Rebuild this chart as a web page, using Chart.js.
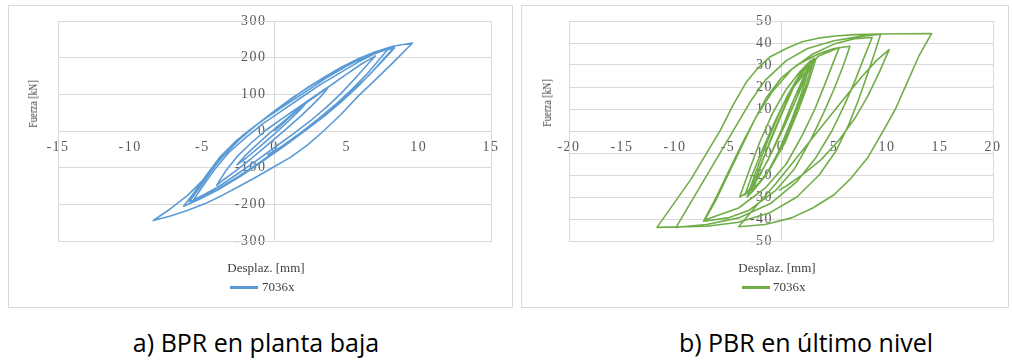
<!DOCTYPE html>
<html>
<head>
<meta charset="utf-8">
<script src="https://cdn.jsdelivr.net/npm/chart.js@4"></script>
<style>
  html,body{margin:0;padding:0;background:#fff;}
  body{width:1012px;height:360px;position:relative;overflow:hidden;}
  .panel{position:absolute;border:1px solid #d9d9d9;box-sizing:border-box;}
  canvas{position:absolute;}
  .t{position:absolute;font-family:"Liberation Serif","Times New Roman",serif;font-size:13px;color:#404040;white-space:nowrap;}
  .ytitle{font-size:13px;transform:translate(-50%,-50%) rotate(-90deg) scaleX(0.75);}
  .xtitle{transform:translate(-50%,-50%);}
  .leg{position:absolute;height:3px;}
  .cap{position:absolute;font-family:"Open Sans","Noto Sans",sans-serif;font-size:25px;color:#000;white-space:nowrap;transform:translate(-50%,-50%);}
</style>
</head>
<body>
<div class="panel" style="left:8px;top:5px;width:505px;height:303px;"></div>
<div class="panel" style="left:521px;top:5px;width:488px;height:303px;"></div>
<canvas id="c1" width="503" height="301" style="left:9px;top:6px;"></canvas>
<canvas id="c2" width="486" height="301" style="left:522px;top:6px;"></canvas>

<div class="t ytitle" style="left:33px;top:104px;">Fuerza [kN]</div>
<div class="t xtitle" style="left:266px;top:268px;">Desplaz. [mm]</div>
<div class="leg" style="left:230px;top:286px;width:28px;background:#5b9bd5;"></div>
<div class="t" style="left:262px;top:279px;">7036x</div>

<div class="t ytitle" style="left:547px;top:103px;">Fuerza [kN]</div>
<div class="t xtitle" style="left:777px;top:268px;">Desplaz. [mm]</div>
<div class="leg" style="left:742px;top:286px;width:28px;background:#70ad47;"></div>
<div class="t" style="left:773px;top:279px;">7036x</div>

<div class="cap" style="left:256px;top:342px;">a) BPR en planta baja</div>
<div class="cap" style="left:806px;top:342px;">b) PBR en último nivel</div>

<script>
// ---- Data (displacement mm, force kN) ----
const seriesName = "7036x";

const bprDesplaz = [
  0,0.7,1.4,2.1,1.7,1.0,0,-1.0,-2.0,-2.6,-2.1,-1.3,-0.4,0.6,1.6,
  2.6,3.2,3.7,3.3,2.6,1.8,0.8,-0.4,-1.6,-2.8,-3.6,-4.0,
  -3.4,-2.6,-1.6,-0.6,0.5,1.5,2.6,3.8,5.0,6.0,7.0,
  6.3,5.5,4.6,3.6,2.5,1.3,0,-1.3,-2.6,-3.8,-4.8,-5.6,
  -5.0,-4.2,-3.2,-2.0,-0.8,0.5,1.8,3.2,4.6,5.8,6.9,7.9,
  7.2,6.4,5.4,4.3,3.1,1.8,0.4,-1.0,-2.5,-3.9,-5.0,-5.9,
  -5.2,-4.3,-3.4,-2.2,-0.8,0.8,2.2,3.6,5.0,6.4,7.4,8.3,
  7.6,6.8,5.8,4.7,3.5,2.2,0.8,-0.8,-2.3,-3.8,-5.2,-6.3,
  -5.6,-4.8,-3.8,-2.6,-1.3,0,1.2,2.3,3.5,4.6,5.8,6.9,8.2,9.56,
  8.3,7.0,5.8,4.6,3.4,2.3,1.1,0,-1.2,-2.4,-3.6,-4.8,-6.0,-7.2,-8.4,
  -7.2,-6.0,-4.8,-3.6,-2.4,-1.2,0,1.3,2.6,3.9,5.2,6.5,7.8,8.3,
  7.5,6.5,5.4,4.2,3.0,1.8,0.5,-0.5];
const bprFuerza = [
  0,25,50,72,55,28,-8,-42,-75,-92,-70,-40,-8,25,58,
  88,105,118,98,70,40,5,-35,-75,-112,-135,-148,
  -110,-70,-32,2,33,60,90,122,155,182,205,
  175,140,102,65,28,-8,-45,-82,-118,-150,-172,-188,
  -152,-108,-60,-18,20,55,90,127,160,188,210,225,
  192,155,115,75,35,-5,-45,-85,-124,-158,-180,-193,
  -155,-105,-58,-12,30,72,108,145,177,205,220,228,
  198,163,122,82,42,3,-38,-82,-122,-158,-186,-205,
  -170,-125,-72,-25,15,52,88,119,148,173,197,215,231,240,
  190,140,95,45,0,-38,-72,-97,-124,-150,-175,-198,-216,-232,-244,
  -212,-175,-128,-70,-22,18,55,92,125,155,182,205,222,226,
  192,150,110,68,28,-8,-42,-65];

const pbrDesplaz = [
  0,1.2,2.0,2.6,2.0,1.0,-0.2,-1.4,-2.6,-2.0,-1.0,0.2,1.4,2.4,3.0,2.3,1.2,0,-1.4,-2.6,-3.2,-2.4,-1.3,0,1.3,2.5,3.3,2.6,1.6,0.4,-1.0,-2.5,-3.9,-3.0,-2.0,-0.8,0.5,1.8,
  2.8,2.0,1.0,0,-1.2,-2.4,-3.4,-2.8,-1.8,-0.6,0.6,1.8,2.7,3.1,2.4,1.4,0.3,-0.9,-2.1,-3.0,-2.3,-1.2,0,1.2,
  3.5,5.5,5.0,4.2,3.2,2.0,0.5,-1.5,-4.0,-7.2,
  -6.2,-5.0,-3.8,-2.6,-1.4,0,1.5,3.5,5.0,6.5,
  5.9,5.0,4.0,2.8,1.3,-0.5,-3.0,-5.0,-7.3,
  -6.2,-5.0,-3.8,-2.4,-0.8,1.0,3.0,5.0,7.0,8.6,
  7.8,7.0,6.0,4.8,3.3,1.5,-1.0,-4.0,-7.0,-9.9,
  -2.8,-1.5,0.5,2.5,5.0,7.5,9.4,
  8.8,8.1,7.3,6.4,5.2,3.6,1.5,-1.0,-4.0,-7.0,-11.7,
  -8.5,-5.7,-4.5,-3.3,-2.2,-1.1,0.5,2.0,3.5,5.1,7.0,9.4,14.2,
  13.0,11.9,10.8,9.7,8.2,6.5,5.0,3.0,1.0,-1.5,-4.0,
  -2.5,-0.5,1.5,3.5,5.5,7.5,9.0,10.2,
  9.3,8.2,7.0,5.5,3.8,2.0,0.5,-0.2];
const pbrFuerza = [
  0,14,22,28,18,5,-9,-20,-27,-17,-4,10,22,29,31,20,6,-8,-20,-27,-30,-19,-5,10,22,30,33,22,9,-5,-17,-26,-30,-18,-5,8,19,27,
  32,23,12,0,-13,-23,-29,-21,-9,4,16,26,31,33,25,14,2,-10,-21,-28,-20,-7,7,20,
  34,38,32,22,10,-2,-15,-26,-35,-40.5,
  -32,-20,-8,4,15,24,30,35,37.5,38.5,
  30,19,8,-4,-17,-27,-36,-39.5,-41,
  -31,-19,-7,6,18,28,35,39.5,42,42.5,
  33,23,12,0,-12,-23,-33,-39.5,-42.5,-43.8,
  14,23,32,37.5,41,43,44,
  35,25,14,3,-9,-20,-30,-37,-41.5,-43.3,-43.8,
  -22,0.5,12,22,28.5,33.5,37.5,40.6,42.2,43.2,43.8,44.1,44.3,
  34,22,10,0.5,-12,-22,-29,-35,-39.5,-42.5,-43.5,
  -35,-24,-12,0,12,24,32,37,
  27,16,6,-4,-13,-20,-25,-27];

const bprXTicks = {min:-15, max:15, step:5};
const bprYTicks = {min:-300, max:300, step:100};
const pbrXTicks = {min:-20, max:20, step:5};
const pbrYTicks = {min:-50, max:50, step:10};

function pts(xs, ys){ return xs.map((x,i)=>({x:x, y:ys[i]})); }

const frame = {
  id:'frame',
  beforeDraw(chart){ try{ chart.ctx.letterSpacing = '1.5px'; }catch(e){} },
  afterUpdate(chart){
    const s = chart.scales.y;
    const items = s.getLabelItems();
    items.forEach(it => { it.options.translation[0] -= 8; });
  },
  beforeDatasetsDraw(chart){
    const a = chart.chartArea, c = chart.ctx;
    c.save();
    c.strokeStyle = '#d9d9d9'; c.lineWidth = 1;
    c.strokeRect(Math.round(a.left)+0.5, Math.round(a.top)+0.5, Math.round(a.right-a.left), Math.round(a.bottom-a.top));
    c.restore();
  }
};

function makeChart(id, data, color, xt, yt, pad){
  const tickFont = {family:'"Liberation Serif","Times New Roman",serif', size:14};
  return new Chart(document.getElementById(id), {
    type:'scatter',
    data:{datasets:[{label:seriesName, data:data, showLine:true, borderColor:color, backgroundColor:color,
      borderWidth:1.6, pointRadius:0, tension:0, fill:false, borderJoinStyle:'round'}]},
    options:{
      responsive:false, animation:false, devicePixelRatio:1,
      layout:{padding:pad},
      plugins:{legend:{display:false}, tooltip:{enabled:false}},
      scales:{
        x:{type:'linear', min:xt.min, max:xt.max, position:{y:0},
           ticks:{stepSize:xt.step, color:'#595959', font:tickFont, padding:8, maxRotation:0, autoSkip:false},
           grid:{display:false, drawTicks:false},
           border:{display:false}},
        y:{type:'linear', min:yt.min, max:yt.max, position:{x:0},
           ticks:{stepSize:yt.step, color:'#595959', font:tickFont, autoSkip:false},
           grid:{display:true, color:'#d9d9d9', drawTicks:false},
           border:{display:true, color:'#d9d9d9'}}
      }
    },
    plugins:[frame]
  });
}

makeChart('c1', pts(bprDesplaz, bprFuerza), '#5b9bd5', bprXTicks, bprYTicks, {left:49, top:15, right:21, bottom:66});
makeChart('c2', pts(pbrDesplaz, pbrFuerza), '#70ad47', pbrXTicks, pbrYTicks, {left:47, top:15, right:7, bottom:66});
</script>
</body>
</html>
